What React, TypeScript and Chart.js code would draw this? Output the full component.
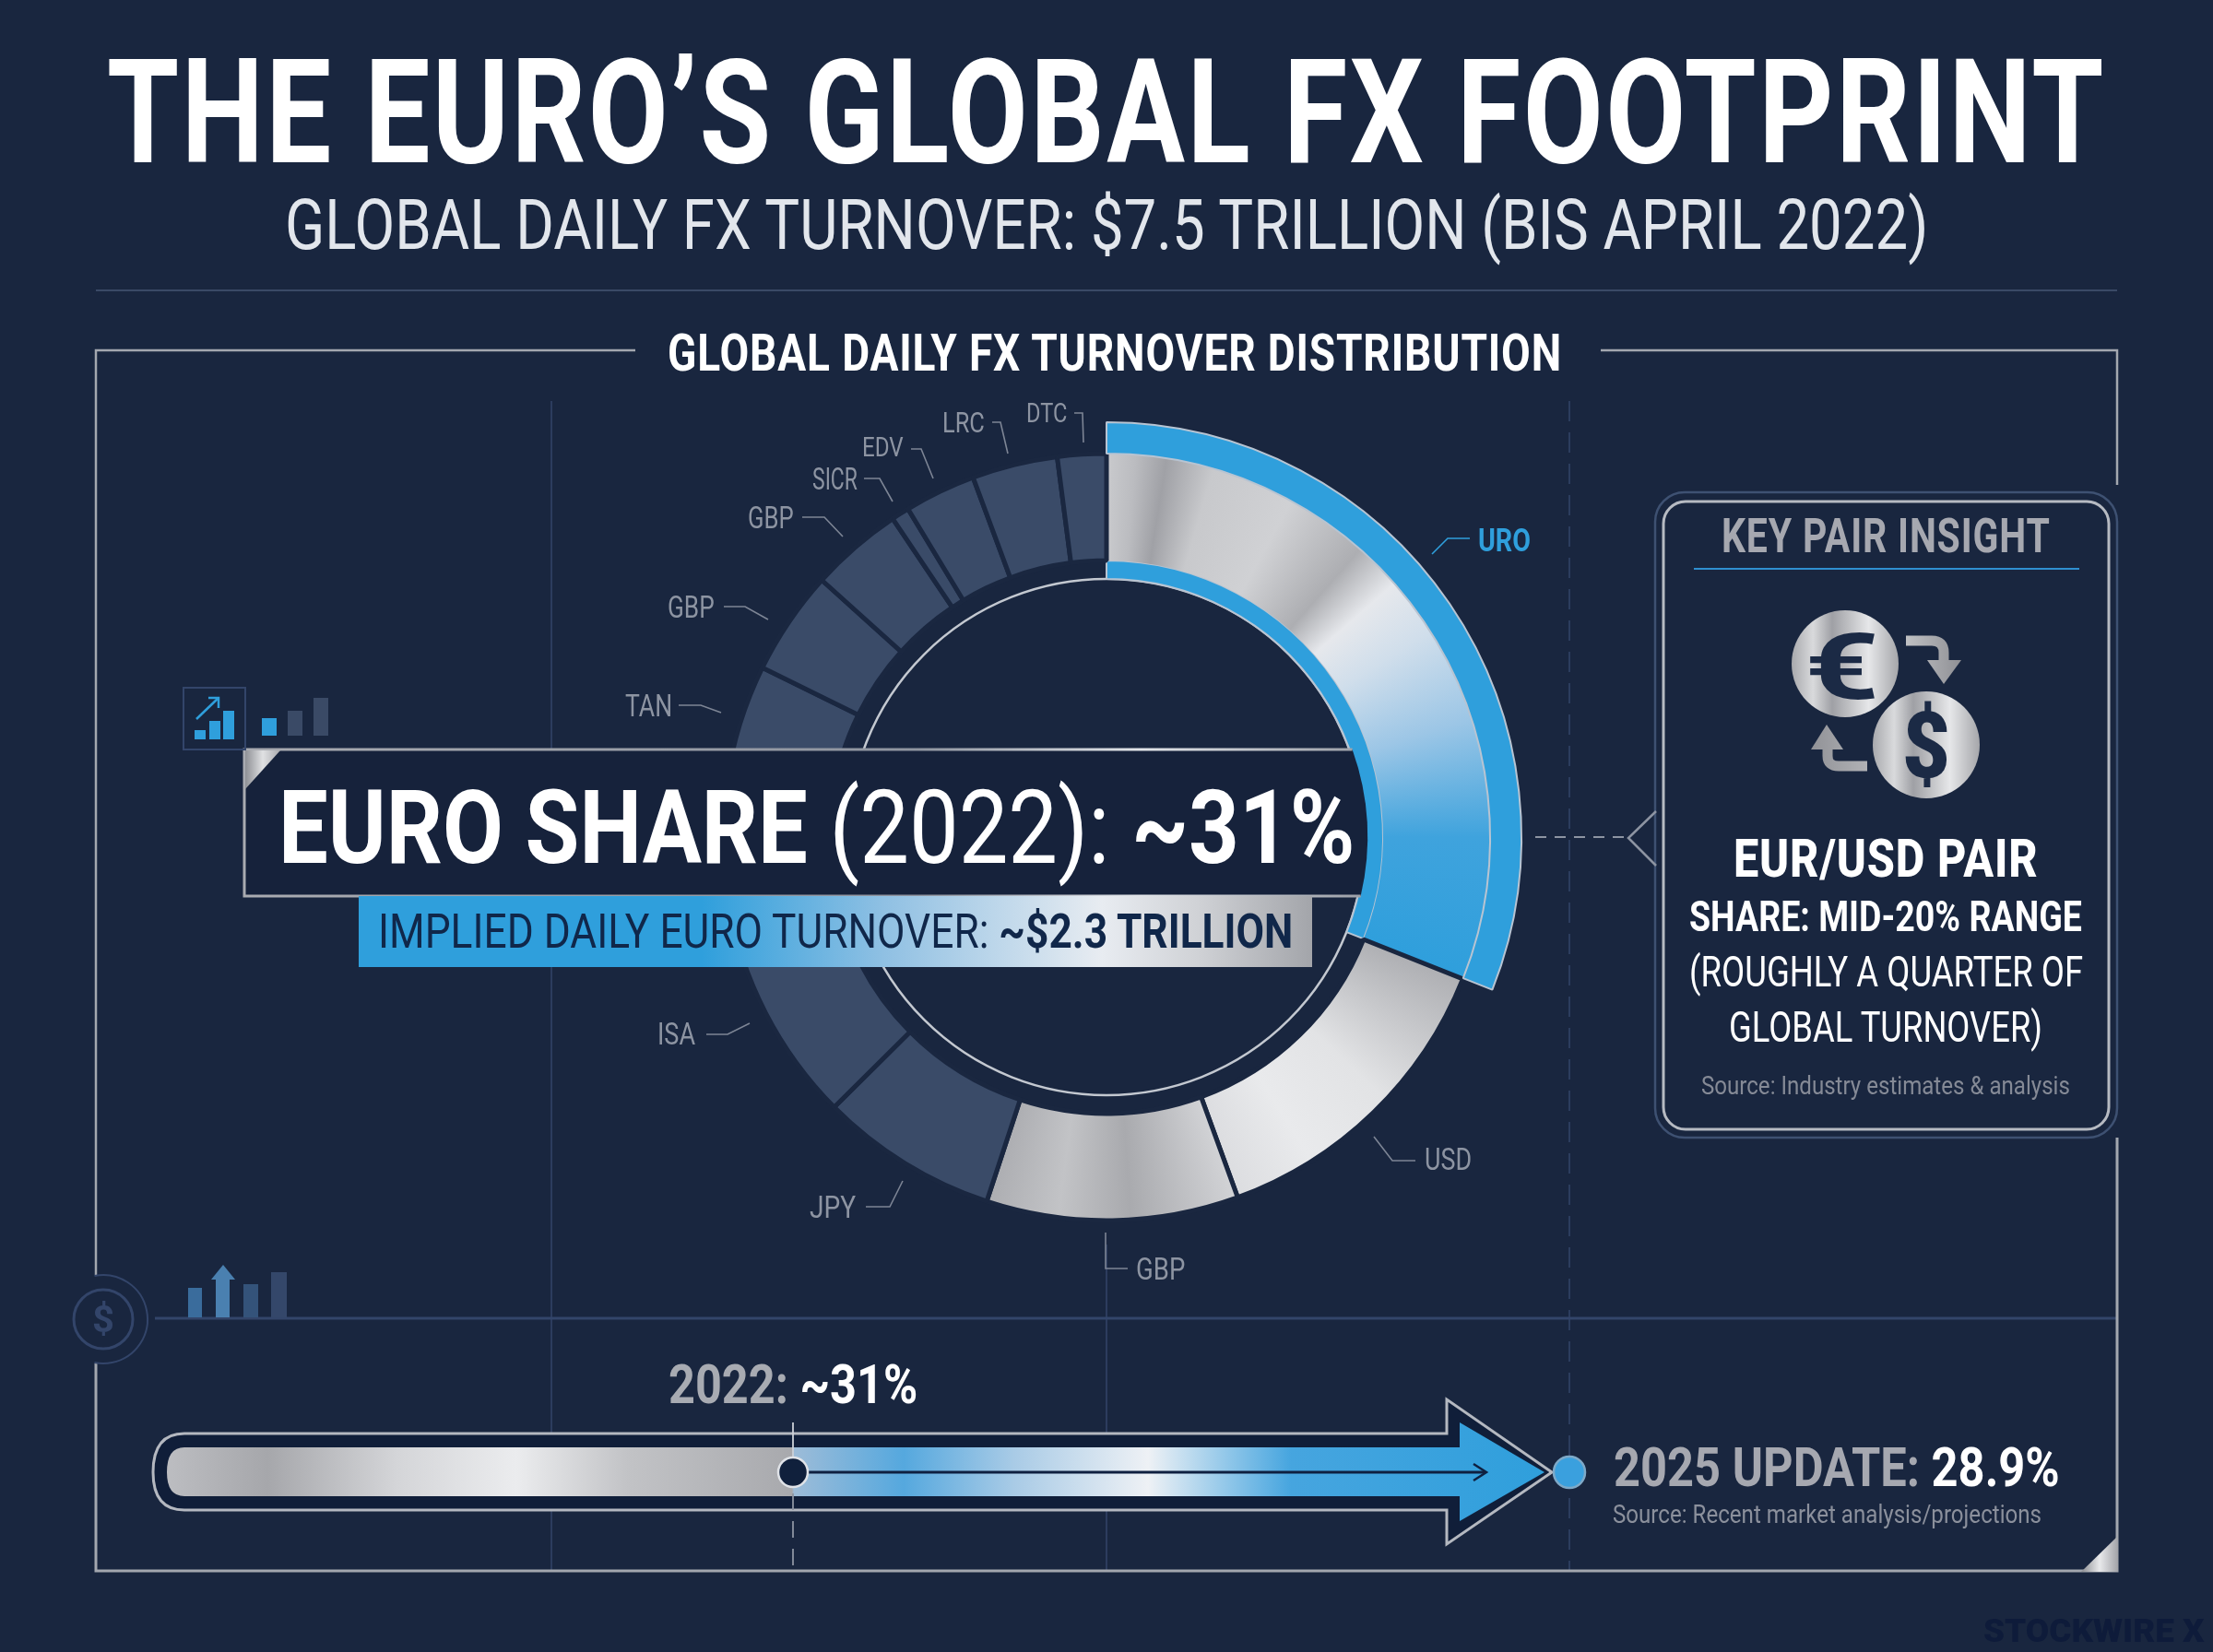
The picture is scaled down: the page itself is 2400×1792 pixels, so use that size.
import React, { useEffect, useLayoutEffect, useRef } from "react";
import { Chart, registerables } from "chart.js";

Chart.register(...registerables);

const categories = ["URO", "USD", "GBP", "JPY", "ISA", "TAN", "GBP", "GBP", "SICR", "EDV", "LRC", "DTC"];
const shares = [31, 13.4, 10.6, 7.5, 9.7, 10, 4.4, 3.9, 0.75, 3, 3.6, 2.05];
const euroShare = [31, 69];
const mainTitle = "THE EURO’S GLOBAL FX FOOTPRINT";
const subTitle = "GLOBAL DAILY FX TURNOVER: $7.5 TRILLION (BIS APRIL 2022)";
const panelTitle = "GLOBAL DAILY FX TURNOVER DISTRIBUTION";

const BG = "#19263f";
const SEG = "#3a4b68";
const GRID = "#33456a";
const BLUE = "#2f9fdc";
const CX = 1200;
const CY = 908;

// label box [x, capTop, width, capHeight], leader polyline
const labelLayout: any[] = [
  { box: [1603, 574, 57, 25], line: [[1594, 584], [1570, 584], [1553, 601]], color: BLUE, weight: 700 },
  { box: [1545, 1245, 51, 24], line: [[1535, 1259], [1510, 1259], [1490, 1233]] },
  { box: [1232, 1364, 53, 24], line: [[1199, 1337], [1199, 1376], [1223, 1376]] },
  { box: [878, 1297, 50, 24], line: [[939, 1309], [965, 1309], [979, 1281]] },
  { box: [713, 1110, 41, 23], line: [[766, 1122], [789, 1122], [813, 1110]] },
  { box: [678, 754, 51, 23], line: [[736, 765], [760, 765], [782, 773]] },
  { box: [724, 647, 51, 23], line: [[785, 658], [808, 658], [833, 672]] },
  { box: [811, 550, 50, 23], line: [[870, 561], [894, 561], [914, 582]] },
  { box: [881, 508, 49, 23], line: [[937, 519], [954, 519], [968, 544]] },
  { box: [935, 475, 45, 21], line: [[988, 487], [999, 487], [1012, 519]] },
  { box: [1022, 448, 46, 22], line: [[1076, 458], [1085, 458], [1093, 492]] },
  { box: [1113, 438, 44, 21], line: [[1165, 448], [1174, 448], [1175, 480]] },
];

function Txt({ x, y, w, size, weight = 400, color = "#fff", font = "Roboto", spacing = 0, children }: any) {
  const ref = useRef<HTMLDivElement>(null);
  useLayoutEffect(() => {
    const el = ref.current!;
    el.style.transform = "none";
    const natural = el.offsetWidth || 1;
    el.style.transform = `scaleX(${w / natural})`;
  }, [w]);
  return (
    <div
      ref={ref}
      style={{
        position: "absolute",
        left: x,
        top: y - 0.13 * size,
        fontFamily: font,
        fontSize: size,
        fontWeight: weight,
        lineHeight: `${size}px`,
        letterSpacing: spacing,
        color,
        whiteSpace: "pre",
        transformOrigin: "0 0",
      }}
    >
      {children}
    </div>
  );
}

function line(ctx: any, pts: number[][], color: string, width: number, dash: number[] = []) {
  ctx.save();
  ctx.strokeStyle = color;
  ctx.lineWidth = width;
  ctx.setLineDash(dash);
  ctx.beginPath();
  pts.forEach((p, i) => (i ? ctx.lineTo(p[0], p[1]) : ctx.moveTo(p[0], p[1])));
  ctx.stroke();
  ctx.restore();
}

function hGrad(ctx: any, x0: number, x1: number, stops: [number, string][]) {
  const g = ctx.createLinearGradient(x0, 0, x1, 0);
  stops.forEach(([p, c]) => g.addColorStop(p, c));
  return g;
}

const coinStops: [number, string][] = [
  [0, "#a8a9ad"], [0.2, "#d9dadc"], [0.38, "#9fa0a5"], [0.55, "#c2c3c6"], [0.72, "#e6e7e9"], [1, "#a5a6aa"],
];

function rect(ctx: any, x: number, y: number, w: number, h: number, c: any) {
  ctx.fillStyle = c;
  ctx.fillRect(x, y, w, h);
}

const backdrop = {
  id: "backdrop",
  beforeDatasetsDraw(chart: any) {
    const ctx = chart.ctx;
    ctx.save();
    rect(ctx, 0, 0, 2400, 1792, BG);
    line(ctx, [[104, 315], [2296, 315]], "#3a4a66", 2);
    line(ctx, [[598, 435], [598, 1704]], GRID, 1.5);
    line(ctx, [[1200, 1350], [1200, 1704]], GRID, 1.5);
    line(ctx, [[1702, 435], [1702, 1704]], GRID, 1.5, [22, 12]);
    line(ctx, [[168, 1430], [2296, 1430]], GRID, 3);
    // frame
    const fr = "#a3a7af";
    line(ctx, [[689, 380], [104, 380], [104, 1383]], fr, 2.5);
    line(ctx, [[104, 1479], [104, 1704], [2296, 1704], [2296, 1234]], fr, 3);
    line(ctx, [[1736, 380], [2296, 380], [2296, 526]], fr, 2.5);
    // bottom-right corner
    ctx.fillStyle = hGrad(ctx, 2257, 2297, [[0, "#8b8d92"], [0.5, "#e8e9eb"], [1, "#a2a3a8"]]);
    ctx.beginPath();
    ctx.moveTo(2297, 1666);
    ctx.lineTo(2297, 1705);
    ctx.lineTo(2257, 1705);
    ctx.closePath();
    ctx.fill();
    // thin inner circle
    ctx.strokeStyle = "#c3c8d0";
    ctx.lineWidth = 2.5;
    ctx.beginPath();
    ctx.arc(CX, CY, 280, 0, Math.PI * 2);
    ctx.stroke();
    ctx.restore();
  },
};

const overlay = {
  id: "overlay",
  afterDatasetsDraw(chart: any) {
    const ctx = chart.ctx;
    ctx.save();
    // leaders
    labelLayout.forEach((l, i) => line(ctx, l.line, i === 0 ? BLUE : "#7d8595", 1.6));

    // euro share banner
    const R = 283;
    const a0 = Math.asin((813 - CY) / R);
    const a1 = Math.asin((972 - CY) / R);
    ctx.fillStyle = "#16223b";
    ctx.beginPath();
    ctx.moveTo(265, 813);
    ctx.lineTo(CX + R * Math.cos(a0), 813);
    ctx.arc(CX, CY, R, a0, a1);
    ctx.lineTo(265, 972);
    ctx.closePath();
    ctx.fill();
    const edge = hGrad(ctx, 265, 1480, [[0, "#a9abb1"], [0.6, "#8f95a0"], [0.8, "#e2e5e9"], [1, "#9b9fa7"]]);
    line(ctx, [[CX + R * Math.cos(a0), 813], [265, 813], [265, 972], [CX + R * Math.cos(a1), 972]], edge, 3);
    ctx.fillStyle = hGrad(ctx, 266, 304, [[0, "#8e9095"], [0.5, "#e0e1e3"], [1, "#a9aaae"]]);
    ctx.beginPath();
    ctx.moveTo(266, 814);
    ctx.lineTo(304, 814);
    ctx.lineTo(266, 856);
    ctx.closePath();
    ctx.fill();
    // implied turnover strip
    rect(ctx, 389, 972, 1034, 77, hGrad(ctx, 389, 1423, [
      [0, BLUE], [0.36, BLUE], [0.55, "#8fc0e3"], [0.78, "#e8ecf1"], [0.88, "#d0d2d6"], [1, "#a3a5aa"],
    ]));

    // connector to insight box
    line(ctx, [[1665, 908], [1766, 908]], "#8d94a2", 2, [12, 9]);

    // insight box
    ctx.lineWidth = 2.5;
    ctx.strokeStyle = "#3e5172";
    ctx.beginPath();
    ctx.roundRect(1795, 534, 501, 700, 32);
    ctx.stroke();
    ctx.fillStyle = BG;
    ctx.strokeStyle = "#b6bac2";
    ctx.lineWidth = 3;
    ctx.beginPath();
    ctx.roundRect(1804, 544, 483, 681, 24);
    ctx.fill();
    ctx.stroke();
    ctx.fillStyle = "#1b2a45";
    ctx.strokeStyle = "#8d94a2";
    ctx.lineWidth = 2.5;
    ctx.beginPath();
    ctx.moveTo(1796, 880);
    ctx.lineTo(1766, 909);
    ctx.lineTo(1796, 939);
    ctx.stroke();
    line(ctx, [[1837, 617], [2255, 617]], "#2f8fd0", 2);

    // coins
    [[2001, 720], [2089, 808]].forEach(([x, y]) => {
      ctx.fillStyle = hGrad(ctx, x - 58, x + 58, coinStops);
      ctx.beginPath();
      ctx.arc(x, y, 58, 0, Math.PI * 2);
      ctx.fill();
    });
    // exchange arrows
    const ag = hGrad(ctx, 1960, 2130, [[0, "#8f9095"], [0.6, "#c4c5c8"], [1, "#8c8d92"]]);
    ctx.strokeStyle = ag;
    ctx.fillStyle = ag;
    ctx.lineWidth = 11;
    ctx.beginPath();
    ctx.moveTo(2067, 695);
    ctx.lineTo(2095, 695);
    ctx.quadraticCurveTo(2108, 695, 2108, 708);
    ctx.lineTo(2108, 720);
    ctx.stroke();
    ctx.beginPath();
    ctx.moveTo(2090, 716);
    ctx.lineTo(2127, 716);
    ctx.lineTo(2108, 742);
    ctx.closePath();
    ctx.fill();
    ctx.beginPath();
    ctx.moveTo(2025, 831);
    ctx.lineTo(1994, 831);
    ctx.quadraticCurveTo(1982, 831, 1982, 820);
    ctx.lineTo(1982, 808);
    ctx.stroke();
    ctx.beginPath();
    ctx.moveTo(1964, 813);
    ctx.lineTo(1999, 813);
    ctx.lineTo(1981, 786);
    ctx.closePath();
    ctx.fill();

    // top-left icons
    ctx.strokeStyle = GRID;
    ctx.lineWidth = 2;
    ctx.strokeRect(199, 746, 67, 67);
    rect(ctx, 211, 792, 12, 10, BLUE);
    rect(ctx, 227, 782, 12, 20, BLUE);
    rect(ctx, 242, 771, 12, 31, BLUE);
    line(ctx, [[213, 780], [237, 757]], BLUE, 2.5);
    line(ctx, [[226, 757], [237, 757], [237, 768]], BLUE, 2.5);
    rect(ctx, 284, 779, 16, 19, BLUE);
    rect(ctx, 312, 771, 16, 27, "#3a4a66");
    rect(ctx, 340, 757, 16, 41, "#3a4a66");

    // bottom-left icons
    ctx.strokeStyle = GRID;
    ctx.lineWidth = 3;
    ctx.beginPath();
    ctx.arc(112, 1431, 32, 0, Math.PI * 2);
    ctx.stroke();
    ctx.lineWidth = 2;
    ctx.beginPath();
    ctx.arc(112, 1431, 48, -Math.PI / 2 - 0.2, Math.PI / 2 + 0.2);
    ctx.stroke();
    rect(ctx, 204, 1397, 15, 32, "#3a6c9c");
    rect(ctx, 234, 1387, 15, 42, "#4a80b0");
    rect(ctx, 264, 1393, 16, 36, "#34537a");
    rect(ctx, 294, 1380, 17, 49, "#34476a");
    ctx.fillStyle = "#4a80b0";
    ctx.beginPath();
    ctx.moveTo(229, 1388);
    ctx.lineTo(255, 1388);
    ctx.lineTo(242, 1372);
    ctx.closePath();
    ctx.fill();

    // timeline arrow
    ctx.fillStyle = "#101e39";
    ctx.strokeStyle = "#b4b8c0";
    ctx.lineWidth = 3;
    ctx.beginPath();
    ctx.moveTo(1569, 1555);
    ctx.lineTo(200, 1555);
    ctx.quadraticCurveTo(166, 1555, 166, 1597);
    ctx.quadraticCurveTo(166, 1638, 200, 1638);
    ctx.lineTo(1569, 1638);
    ctx.lineTo(1569, 1675);
    ctx.lineTo(1683, 1597);
    ctx.lineTo(1569, 1518);
    ctx.closePath();
    ctx.fill();
    ctx.stroke();
    const span = (x: number) => (x - 181) / (1675 - 181);
    const tl = hGrad(ctx, 181, 1675, [
      [0, "#bcbdc1"], [span(290), "#a6a7ab"], [span(430), "#d4d5d8"], [span(560), "#ebecee"],
      [span(680), "#c2c3c6"], [span(859), "#a8a9ad"], [span(861), "#9dbcd8"], [span(980), "#55a8de"],
      [span(1100), "#a9cbe6"], [span(1245), "#eef1f5"], [span(1400), "#46a5df"], [1, BLUE],
    ]);
    ctx.fillStyle = tl;
    ctx.beginPath();
    ctx.moveTo(200, 1570);
    ctx.lineTo(1583, 1570);
    ctx.lineTo(1583, 1543);
    ctx.lineTo(1675, 1597);
    ctx.lineTo(1583, 1650);
    ctx.lineTo(1583, 1623);
    ctx.lineTo(200, 1623);
    ctx.quadraticCurveTo(181, 1623, 181, 1597);
    ctx.quadraticCurveTo(181, 1570, 200, 1570);
    ctx.closePath();
    ctx.fill();
    line(ctx, [[876, 1597], [1610, 1597]], "#0f2040", 3);
    line(ctx, [[1598, 1588], [1612, 1597], [1598, 1606]], "#0f2040", 2.5);
    // 2022 marker
    line(ctx, [[860, 1543], [860, 1590]], "#cdd1d8", 1.8);
    line(ctx, [[860, 1620], [860, 1704]], "#8d94a2", 1.8, [18, 12]);
    ctx.fillStyle = "#10203c";
    ctx.strokeStyle = "#e0e3e8";
    ctx.lineWidth = 2.5;
    ctx.beginPath();
    ctx.arc(860, 1597, 16, 0, Math.PI * 2);
    ctx.fill();
    ctx.stroke();
    // 2025 marker
    ctx.fillStyle = "#3aa0de";
    ctx.strokeStyle = "#7ea9c8";
    ctx.beginPath();
    ctx.arc(1702, 1597, 17, 0, Math.PI * 2);
    ctx.fill();
    ctx.stroke();
    ctx.restore();
  },
};

export default function App() {
  const canvasRef = useRef<HTMLCanvasElement>(null);
  useEffect(() => {
    const canvas = canvasRef.current!;
    const ctx = canvas.getContext("2d")!;
    const conic = ctx.createConicGradient(-Math.PI / 2, CX, CY);
    const stops: [number, string][] = [
      [0, "#c9cacd"], [0.012, "#bbbcc0"], [0.025, "#a0a1a6"], [0.045, "#c8c9cc"], [0.08, "#d0d1d4"], [0.115, "#adaeb2"],
      [0.135, "#e6e8ec"], [0.16, "#d0deeb"], [0.2, "#9cc6e6"], [0.25, "#3fa3dd"], [0.31, BLUE],
      [0.3101, "#aeafb3"], [0.37, "#e2e3e5"], [0.41, "#e9eaec"], [0.4444, "#dcdde0"],
      [0.4445, "#d2d3d6"], [0.49, "#a9aaae"], [0.52, "#c2c3c6"], [0.55, "#adaeb2"], [1, "#adaeb2"],
    ];
    stops.forEach(([p, c]) => conic.addColorStop(p, c));
    const mainFill = shares.map((_, i) => (i < 3 ? conic : SEG));
    const clear = "rgba(0,0,0,0)";
    const chart = new Chart(canvas, {
      type: "doughnut",
      data: {
        labels: categories,
        datasets: [
          {
            data: euroShare,
            weight: 34,
            backgroundColor: [BLUE, clear],
            borderColor: ["#b8c4d2", clear],
            borderWidth: [2, 0],
          },
          {
            data: shares,
            weight: 116,
            backgroundColor: mainFill,
            borderColor: shares.map((_, i) => (i === 0 ? clear : i === 1 ? BG : "#1a2740")),
            borderWidth: shares.map((_, i) => (i === 0 ? 0 : 5)),
          },
          {
            data: euroShare,
            weight: 20,
            backgroundColor: [BLUE, clear],
            borderColor: ["#b8c4d2", clear],
            borderWidth: [2, 0],
          },
        ],
      },
      options: {
        responsive: false,
        animation: false,
        devicePixelRatio: 1,
        radius: 450,
        cutout: `${(280 / 450) * 100}%`,
        layout: { padding: { top: 24 } },
        plugins: { legend: { display: false }, tooltip: { enabled: false }, title: { display: false } },
      } as any,
      plugins: [backdrop, overlay],
    } as any);
    return () => chart.destroy();
  }, []);

  return (
    <div style={{ position: "relative", width: 2400, height: 1792, overflow: "hidden", background: BG }}>
      <style>{`html,body{margin:0;padding:0;background:${BG}}`}</style>
      <canvas ref={canvasRef} width={2400} height={1792} style={{ display: "block", width: 2400, height: 1792 }} />

      <Txt x={116} y={64} w={2168} size={157} weight={700} spacing={3}>{mainTitle}</Txt>
      <Txt x={309} y={216} w={1782} size={76} weight={400} color="#e2e6ec">{subTitle}</Txt>
      <Txt x={724} y={362} w={970} size={56} weight={700} spacing={1}>{panelTitle}</Txt>

      {categories.map((c, i) => {
        const l = labelLayout[i];
        return (
          <Txt key={i} x={l.box[0]} y={l.box[1]} w={l.box[2]} size={l.box[3] / 0.711} weight={l.weight || 400} color={l.color || "#8d94a2"}>
            {c}
          </Txt>
        );
      })}

      <Txt x={302} y={857} w={1167} size={112} weight={700}>
        EURO SHARE <span style={{ fontWeight: 400 }}>(2022):</span> ~31%
      </Txt>
      <Txt x={410} y={992} w={992} size={51} weight={400} color="#10274a">
        IMPLIED DAILY EURO TURNOVER: <span style={{ fontWeight: 700 }}>~$2.3 TRILLION</span>
      </Txt>

      <Txt x={1867} y={563} w={357} size={51} weight={700} color="#a6a8b0" spacing={1}>KEY PAIR INSIGHT</Txt>
      <Txt x={1957} y={687} w={81} size={100} weight={700} color="#1b2a45">€</Txt>
      <Txt x={2063} y={772} w={52} size={100} weight={900} color="#1b2a45">$</Txt>
      <Txt x={1880} y={910} w={331} size={58} weight={800} spacing={1}>EUR/USD PAIR</Txt>
      <Txt x={1832} y={977} w={426} size={46} weight={700}>SHARE: MID-20% RANGE</Txt>
      <Txt x={1832} y={1036} w={427} size={47} weight={400}>(ROUGHLY A QUARTER OF</Txt>
      <Txt x={1875} y={1096} w={340} size={47} weight={400}>GLOBAL TURNOVER)</Txt>
      <Txt x={1845} y={1168} w={400} size={28} weight={400} color="#858a96">Source: Industry estimates &amp; analysis</Txt>

      <Txt x={100} y={1417} w={24} size={40} weight={700} color={GRID}>$</Txt>

      <Txt x={725} y={1480} w={270} size={59} weight={700} color="#a8abb2">
        2022: <span style={{ color: "#fff" }}>~31%</span>
      </Txt>
      <Txt x={1750} y={1570} w={484} size={60} weight={700} color="#a6a8b0">
        2025 UPDATE: <span style={{ color: "#fff" }}>28.9%</span>
      </Txt>
      <Txt x={1749} y={1633} w={465} size={28} weight={400} color="#8b909c">Source: Recent market analysis/projections</Txt>
      <Txt x={2151} y={1757} w={240} size={35} weight={900} color="#0e1b3a">STOCKWIRE X</Txt>
    </div>
  );
}
